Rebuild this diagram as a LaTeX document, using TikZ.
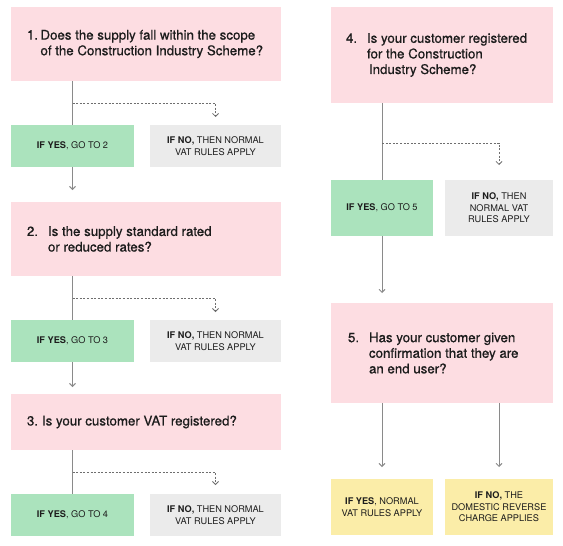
\documentclass[tikz,border=0pt]{standalone}
\usepackage{fontspec}
\setmainfont{TeX Gyre Heros}
\newfontfamily\qfont[FakeBold=0.7]{TeX Gyre Heros}
\usetikzlibrary{arrows.meta,calc}
\definecolor{qpink}{HTML}{FDDDE2}
\definecolor{ygreen}{HTML}{ABE3BD}
\definecolor{ngray}{HTML}{EBEBEB}
\definecolor{ryellow}{HTML}{FBEDA8}
\definecolor{linegray}{HTML}{8A8A8A}
\definecolor{dashgray}{HTML}{6E6E6E}
\definecolor{inkcol}{HTML}{1C1C1C}
\begin{document}
\begin{tikzpicture}[x=1pt,y=-1pt,
  bx/.style={draw=none,inner sep=0pt,outer sep=0pt,anchor=north west,align=center,
    text=inkcol,font=\fontsize{9.2}{11.5}\selectfont},
  qbox/.style={bx,fill=qpink,minimum width=#1},
  yesbox/.style={bx,fill=ygreen},
  nobox/.style={bx,fill=ngray},
  endbox/.style={bx,fill=ryellow},
  qtext/.style={inner sep=0pt,outer sep=0pt,anchor=west,align=left,text=inkcol,
    font=\qfont\fontsize{13.3}{15.6}\selectfont},
  solidline/.style={draw=linegray,line width=1pt},
  arr/.style={solidline,-{Straight Barb[length=3pt,width=6pt,line width=0.9pt]}},
  darr/.style={draw=dashgray,line width=0.8pt,dash pattern=on 2pt off 1.6pt,
    -{Straight Barb[length=3pt,width=6pt,line width=0.8pt]}}
]
\useasboundingbox (0,0) rectangle (563,546);

% ---------- left column ----------
\node[qbox=270pt,minimum height=74pt] (p1) at (11,7) {};
\node[qtext] (t1) at (27,44) {\makebox[13.5pt][l]{1.}Does the supply fall within the scope\\\hspace*{13.5pt}of the Construction Industry Scheme?};
\node[yesbox,minimum width=123pt,minimum height=42pt] (g1) at (11,125) {\textbf{IF YES}, GO TO 2};
\node[nobox,minimum width=131pt,minimum height=42pt] (n1) at (150,125) {\textbf{IF NO,} THEN NORMAL\\VAT RULES APPLY};

\node[qbox=270pt,minimum height=74pt] (p2) at (11,202) {};
\node[qtext] (t2) at (27,239) {\makebox[21pt][l]{2.}Is the supply standard rated\\\hspace*{21pt}or reduced rates?};
\node[yesbox,minimum width=123pt,minimum height=42pt] (g2) at (11,320) {\textbf{IF YES}, GO TO 3};
\node[nobox,minimum width=131pt,minimum height=42pt] (n2) at (150,320) {\textbf{IF NO,} THEN NORMAL\\VAT RULES APPLY};

\node[qbox=270pt,minimum height=56pt] (p3) at (11,394) {};
\node[qtext] (t3) at (27,422) {\makebox[15pt][l]{3.}Is your customer VAT registered?};
\node[yesbox,minimum width=123pt,minimum height=42pt] (g3) at (11,494) {\textbf{IF YES}, GO TO 4};
\node[nobox,minimum width=131pt,minimum height=42pt] (n3) at (150,494) {\textbf{IF NO,} THEN NORMAL\\VAT RULES APPLY};

% ---------- right column ----------
\node[qbox=222pt,minimum height=96pt] (p4) at (331,7) {};
\node[qtext] (t4) at (346,55) {\makebox[21pt][l]{4.}Is your customer registered\\\hspace*{21pt}for the Construction\\\hspace*{23pt}Industry Scheme?};
\node[yesbox,minimum width=102pt,minimum height=56pt] (g4) at (331,180) {\textbf{IF YES}, GO TO 5};
\node[nobox,minimum width=108pt,minimum height=56pt] (n4) at (445,180) {\textbf{IF NO,} THEN\\NORMAL VAT\\RULES APPLY};

\node[qbox=222pt,minimum height=100pt] (p5) at (331,303) {};
\node[qtext] (t5) at (348,353) {\makebox[21pt][l]{5.}Has your customer given\\\hspace*{21pt}confirmation that they are\\\hspace*{21pt}an end user?};
\node[endbox,minimum width=102pt,minimum height=56pt] (y1) at (331,479) {\textbf{IF YES}, NORMAL\\VAT RULES APPLY};
\node[endbox,minimum width=108pt,minimum height=56pt] (y2) at (445,479) {\textbf{IF NO,} THE\\DOMESTIC REVERSE\\CHARGE APPLIES};

% ---------- connectors ----------
% question 1
\draw[solidline] (g1.north |- p1.south) -- (g1.north);
\coordinate (d1) at ($(g1.north |- p1.south)!0.5!(g1.north)$);
\draw[darr,shorten >=8pt] (d1) -| (n1.north);
\draw[arr,shorten >=12pt] (g1.south) -- (g1.south |- p2.north);
% question 2
\draw[solidline] (g2.north |- p2.south) -- (g2.north);
\coordinate (d2) at ($(g2.north |- p2.south)!0.5!(g2.north)$);
\draw[darr,shorten >=8pt] (d2) -| (n2.north);
\draw[arr,shorten >=7pt] (g2.south) -- (g2.south |- p3.north);
% question 3
\draw[solidline] (g3.north |- p3.south) -- (g3.north);
\coordinate (d3) at ($(g3.north |- p3.south)!0.5!(g3.north)$);
\draw[darr,shorten >=9pt] (d3) -| (n3.north);
% question 4
\draw[solidline] (g4.north |- p4.south) -- (g4.north);
\coordinate (d4) at ($(g4.north |- p4.south)!0.52!(g4.north)$);
\draw[darr,shorten >=15pt] (d4) -| (n4.north);
\draw[arr,shorten >=10pt] (g4.south) -- (g4.south |- p5.north);
% question 5
\draw[arr,shorten >=12pt] (y1.north |- p5.south) -- (y1.north);
\draw[arr,shorten >=12pt] (y2.north |- p5.south) -- (y2.north);
\end{tikzpicture}
\end{document}
